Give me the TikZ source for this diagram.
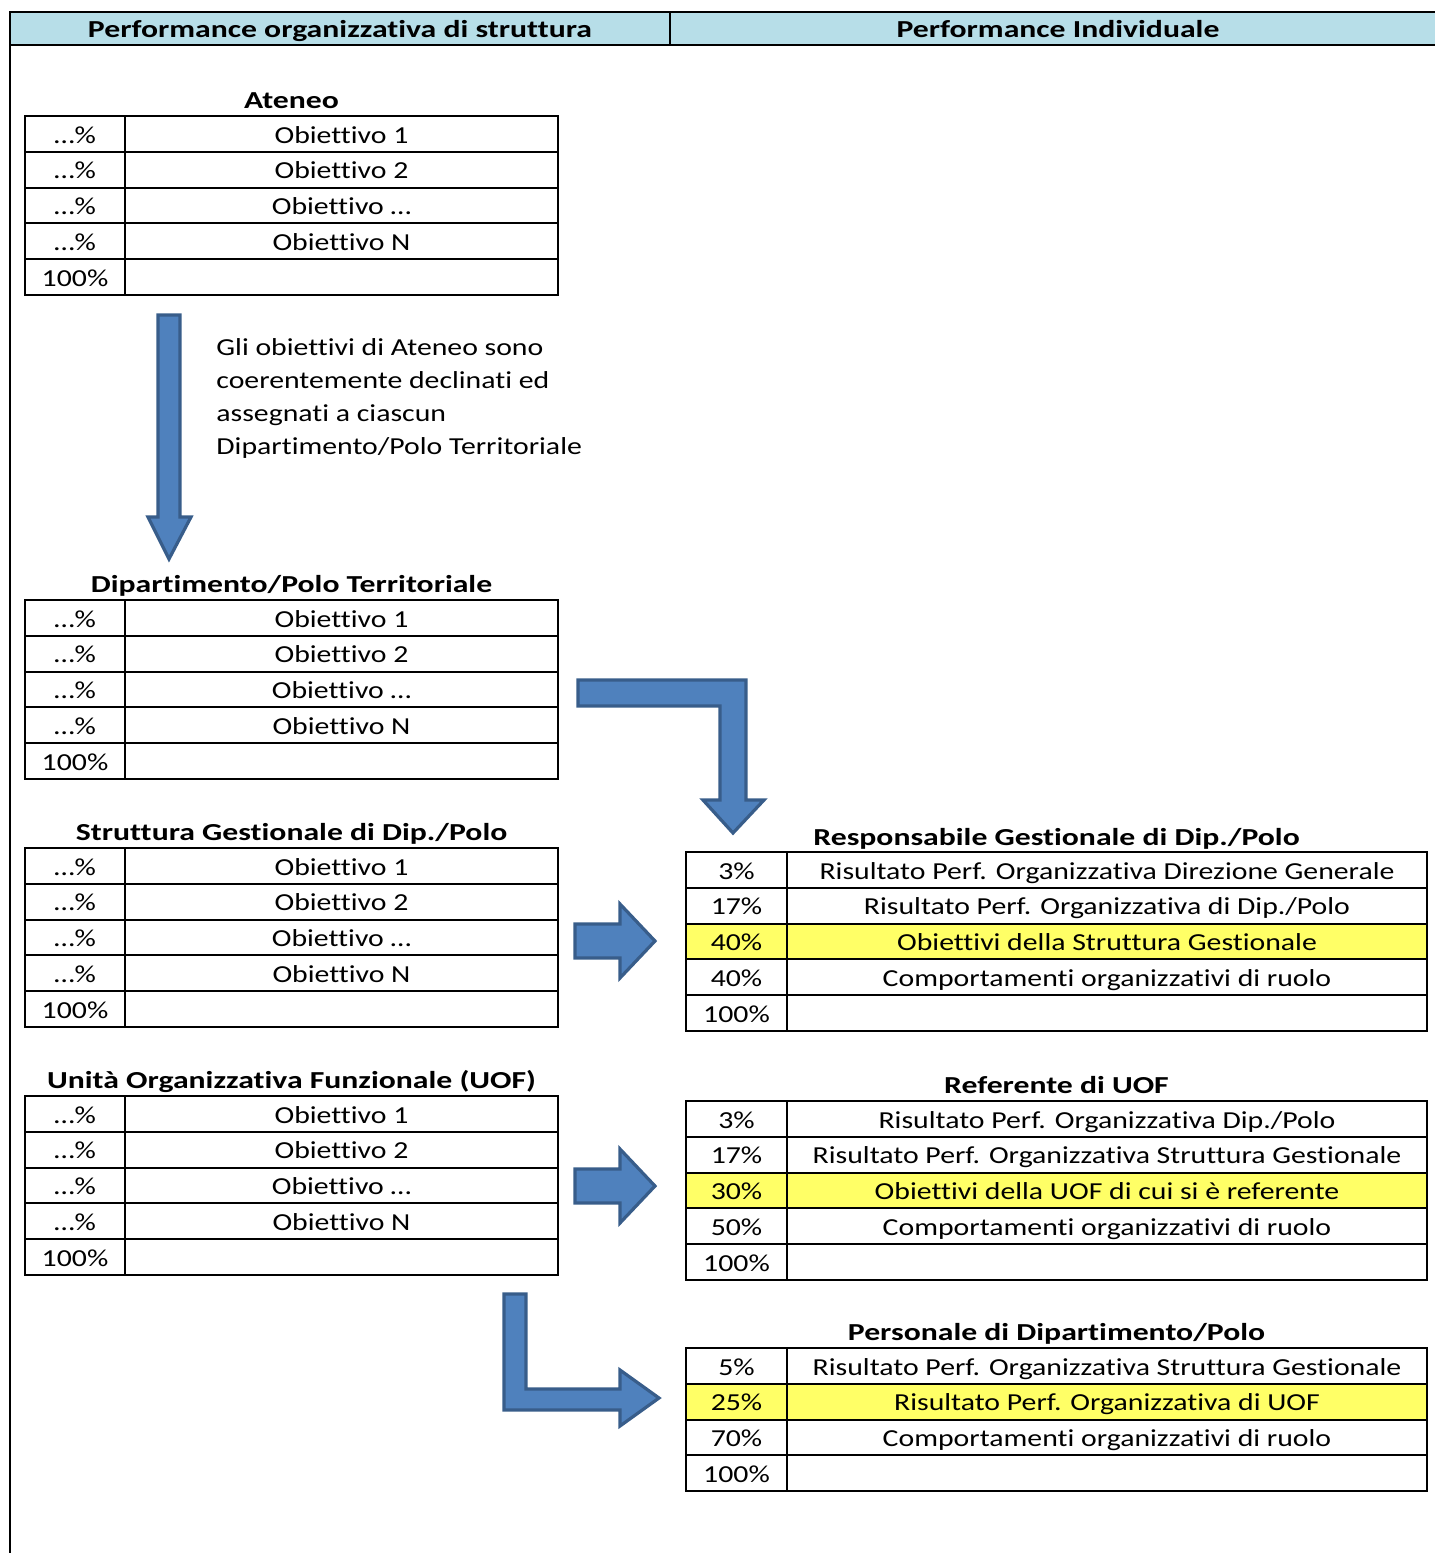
\documentclass[tikz,border=0pt]{standalone}
\usepackage{fontspec}
\setmainfont{Carlito}[Ligatures={NoCommon}, FakeStretch=1.22, BoldFeatures={FakeStretch=1.3}]
\usetikzlibrary{positioning,calc}
\definecolor{headblue}{HTML}{B7DEE8}
\definecolor{arrowfill}{HTML}{4F81BD}
\definecolor{arrowline}{HTML}{385D8A}
\definecolor{hilite}{HTML}{FFFF66}
\tikzset{
	x=0.5pt, y=-0.5pt,
	cell/.style={anchor=base, inner sep=0pt, font=\fontsize{12.2}{14}\selectfont},
	title/.style={anchor=base, inner sep=0pt, font=\fontsize{12.2}{14}\selectfont\bfseries},
	grid/.style={line width=1pt},
	block/.style={fill=arrowfill, draw=arrowline, line width=1.6pt, line join=miter}
}
\begin{document}
\begin{tikzpicture}
		\useasboundingbox (0,0) rectangle (1435,1553);
		
		% header
		\fill[headblue] (10,12) rectangle (1445,45);
		\draw[line width=1.2pt] (1445,12) -- (10,12) -- (10,1553);
		\draw[line width=1.2pt] (10,45) -- (1445,45);
		\draw[line width=1.2pt] (670,12) -- (670,45);
		\node[title] (hdl) at (340,37) {Performance organizzativa di struttura};
		\node[title] (hdr) at (1058,37) {Performance Individuale};
		
		% left tables
		\foreach \t/\name/\ttl in {116/at/Ateneo, 600/dp/{Dipartimento/Polo Territoriale}, 848/sg/{Struttura Gestionale di Dip./Polo}, 1096/uo/{Unità Organizzativa Funzionale (UOF)}} {
			\node[title] (\name-t) at (291.5,\t-8) {\ttl};
			\draw[grid] (25,\t) rectangle (558,\t+179);
			\foreach \k in {1,...,4}
				\draw[grid] (25,\t+35.8*\k) -- (558,\t+35.8*\k);
			\draw[grid] (125,\t) -- (125,\t+179);
			\foreach \k/\obj in {1/Obiettivo 1, 2/Obiettivo 2, 3/Obiettivo …, 4/Obiettivo N} {
				\node[cell] (\name-p\k) at (75,\t+35.8*\k-8.8) {…\%};
				\node[cell] (\name-o\k) at (341.5,\t+35.8*\k-8.8) {\obj};
			}
			\node[cell] (\name-p5) at (75,\t+170.2) {100\%};
		}
		
		% note
		\node[cell, anchor=north west, align=left, font=\fontsize{12.2}{16.5}\selectfont] (note) at (216,338)
			{Gli obiettivi di Ateneo sono\\coerentemente declinati ed\\assegnati a ciascun\\Dipartimento/Polo Territoriale};
		
		% Responsabile Gestionale
		\node[title] (rg-t) at (1056.5,845) {Responsabile Gestionale di Dip./Polo};
		\fill[hilite] (686,852+71.6) rectangle (1427,852+107.4);
		\draw[grid] (686,852) rectangle (1427,1031);
		\foreach \k in {1,...,4}
			\draw[grid] (686,852+35.8*\k) -- (1427,852+35.8*\k);
		\draw[grid] (787,852) -- (787,1031);
		\foreach \k/\p/\txt in {1/3\%/Risultato Perf. Organizzativa Direzione Generale, 2/17\%/{Risultato Perf. Organizzativa di Dip./Polo}, 3/40\%/Obiettivi della Struttura Gestionale, 4/40\%/Comportamenti organizzativi di ruolo, 5/100\%/{}} {
			\node[cell] (rg-p\k) at (736.5,852+35.8*\k-8.8) {\p};
			\node[cell] (rg-o\k) at (1107,852+35.8*\k-8.8) {\txt};
		}
		
		% Referente di UOF
		\node[title] (ru-t) at (1056.5,1093) {Referente di UOF};
		\fill[hilite] (686,1101+71.6) rectangle (1427,1101+107.4);
		\draw[grid] (686,1101) rectangle (1427,1280);
		\foreach \k in {1,...,4}
			\draw[grid] (686,1101+35.8*\k) -- (1427,1101+35.8*\k);
		\draw[grid] (787,1101) -- (787,1280);
		\foreach \k/\p/\txt in {1/3\%/{Risultato Perf. Organizzativa Dip./Polo}, 2/17\%/Risultato Perf. Organizzativa Struttura Gestionale, 3/30\%/Obiettivi della UOF di cui si è referente, 4/50\%/Comportamenti organizzativi di ruolo, 5/100\%/{}} {
			\node[cell] (ru-p\k) at (736.5,1101+35.8*\k-8.8) {\p};
			\node[cell] (ru-o\k) at (1107,1101+35.8*\k-8.8) {\txt};
		}
		
		% Personale di Dipartimento
		\node[title] (pd-t) at (1056.5,1340) {Personale di Dipartimento/Polo};
		\fill[hilite] (686,1348+35.8) rectangle (1427,1348+71.6);
		\draw[grid] (686,1348) rectangle (1427,1491);
		\foreach \k in {1,...,3}
			\draw[grid] (686,1348+35.8*\k) -- (1427,1348+35.8*\k);
		\draw[grid] (787,1348) -- (787,1491);
		\foreach \k/\p/\txt in {1/5\%/Risultato Perf. Organizzativa Struttura Gestionale, 2/25\%/Risultato Perf. Organizzativa di UOF, 3/70\%/Comportamenti organizzativi di ruolo, 4/100\%/{}} {
			\node[cell] (pd-p\k) at (736.5,1348+35.8*\k-8.8) {\p};
			\node[cell] (pd-o\k) at (1107,1348+35.8*\k-8.8) {\txt};
		}
		
		% block arrows
		\draw[block] (158,315) -- (180,315) -- (180,517) -- (191,517) -- (169,559) -- (148,517) -- (158,517) -- cycle;
		\draw[block] (578,680) -- (746,680) -- (746,800) -- (764,800) -- (733,833) -- (703,800) -- (720,800) -- (720,706) -- (578,706) -- cycle;
		\draw[block] (575,924) -- (620,924) -- (620,904) -- (655,941) -- (620,978) -- (620,958) -- (575,958) -- cycle;
		\draw[block] (575,1169) -- (620,1169) -- (620,1149) -- (655,1186) -- (620,1223) -- (620,1203) -- (575,1203) -- cycle;
		\draw[block] (504,1294) -- (526,1294) -- (526,1389) -- (620,1389) -- (620,1370) -- (659,1398) -- (620,1426) -- (620,1410) -- (504,1410) -- cycle;
\end{tikzpicture}
\end{document}
